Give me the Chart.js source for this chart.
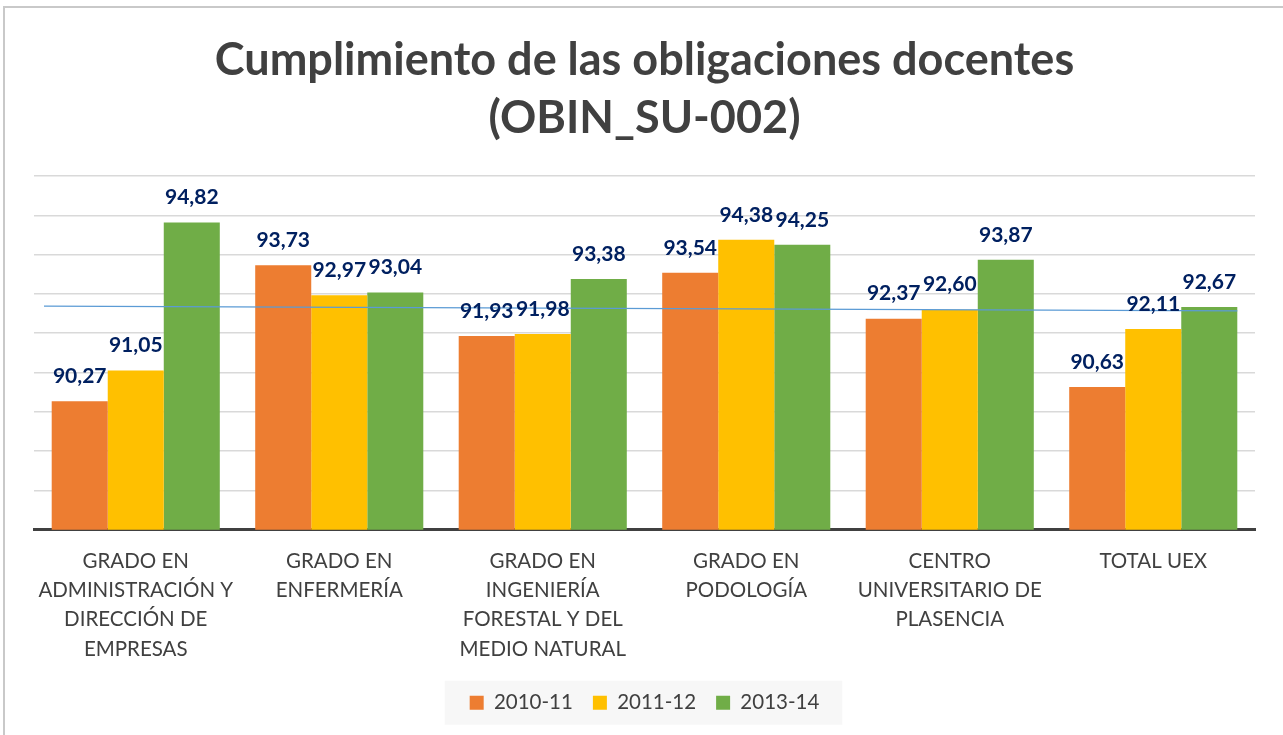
<!DOCTYPE html>
<html>
<head>
<meta charset="utf-8">
<script src="https://cdn.jsdelivr.net/npm/chart.js@4"></script>
<style>
  html, body { margin: 0; padding: 0; background: #fff; overflow: hidden; }
  #frame {
    position: absolute; left: 3px; top: 6px; width: 1300px; height: 760px;
    border: 2px solid #c9c9c9; box-sizing: border-box;
  }
  #wrap { position: absolute; left: 0; top: 0; width: 1283px; height: 735px; }
</style>
</head>
<body>
<div id="frame"></div>
<div id="wrap"><canvas id="chart"></canvas></div>
<script>
const categories = [
  ["GRADO EN", "ADMINISTRACIÓN Y", "DIRECCIÓN DE", "EMPRESAS"],
  ["GRADO EN", "ENFERMERÍA"],
  ["GRADO EN", "INGENIERÍA", "FORESTAL Y DEL", "MEDIO NATURAL"],
  ["GRADO EN", "PODOLOGÍA"],
  ["CENTRO", "UNIVERSITARIO DE", "PLASENCIA"],
  ["TOTAL UEX"]
];
const seriesNames = ["2010-11", "2011-12", "2013-14"];
const values2010 = [90.27, 93.73, 91.93, 93.54, 92.37, 90.63];
const values2011 = [91.05, 92.97, 91.98, 94.38, 92.60, 92.11];
const values2013 = [94.82, 93.04, 93.38, 94.25, 93.87, 92.67];
const seriesColors = ["#ED7D31", "#FFC000", "#70AD47"];

// value axis range (gridline every 1 point, no labels shown)
const yMin = 87;
const yMax = 96;
const yStep = 1;

// thin reference line across the plot, start and end value
const refLine = [92.69, 92.57];

const FONT = "Lato";

// number labels above each bar, plus the blue reference line under them
const barLabels = {
  id: "barLabels",
  afterDatasetsDraw(chart) {
    const ctx = chart.ctx;
    const y = chart.scales.y;
    const area = chart.chartArea;
    const lastMeta = chart.getDatasetMeta(chart.data.datasets.length - 1);
    const lastBar = lastMeta.data[lastMeta.data.length - 1];

    ctx.save();
    ctx.strokeStyle = "#5B9BD5";
    ctx.lineWidth = 1.25;
    ctx.beginPath();
    ctx.moveTo(area.left + 10, y.getPixelForValue(refLine[0]));
    ctx.lineTo(lastBar.x + lastBar.width / 2, y.getPixelForValue(refLine[1]));
    ctx.stroke();

    ctx.font = `bold 21px ${FONT}`;
    ctx.fillStyle = "#002060";
    ctx.textAlign = "center";
    ctx.textBaseline = "middle";
    chart.data.datasets.forEach((ds, i) => {
      chart.getDatasetMeta(i).data.forEach((bar, j) => {
        const txt = ds.data[j].toFixed(2).replace(".", ",");
        ctx.fillText(txt, bar.x, bar.y - 25);
      });
    });
    ctx.restore();
  }
};

// light grey panel behind the legend items
const legendPanel = {
  id: "legendPanel",
  beforeDraw(chart) {
    const boxes = chart.legend && chart.legend.legendHitBoxes;
    if (!boxes || !boxes.length) return;
    const first = boxes[0];
    const last = boxes[boxes.length - 1];
    const mid = first.top + first.height / 2;
    const ctx = chart.ctx;
    ctx.save();
    ctx.fillStyle = "#f7f7f7";
    ctx.fillRect(first.left - 25, mid - 22, last.left + last.width - first.left + 48, 44);
    ctx.restore();
  }
};

new Chart(document.getElementById("chart"), {
  type: "bar",
  data: {
    labels: categories,
    datasets: [
      { label: seriesNames[0], data: values2010, backgroundColor: seriesColors[0] },
      { label: seriesNames[1], data: values2011, backgroundColor: seriesColors[1] },
      { label: seriesNames[2], data: values2013, backgroundColor: seriesColors[2] }
    ]
  },
  options: {
    responsive: true,
    maintainAspectRatio: false,
    animation: false,
    layout: { padding: { left: 34, right: 28, top: 0, bottom: 12 } },
    datasets: {
      bar: { categoryPercentage: 0.826, barPercentage: 1.0, borderWidth: 0 }
    },
    scales: {
      x: {
        grid: { display: false },
        border: { display: true, color: "#404040", width: 3 },
        ticks: {
          color: "#404040",
          font: { family: FONT, size: 20.5, lineHeight: 1.425 },
          padding: 9,
          maxRotation: 0,
          autoSkip: false
        }
      },
      y: {
        min: yMin,
        max: yMax,
        ticks: { display: false, stepSize: yStep },
        border: { display: false },
        grid: { color: "#d9d9d9", lineWidth: 1.5, drawTicks: false }
      }
    },
    plugins: {
      title: {
        display: true,
        text: ["Cumplimiento de las obligaciones docentes", "(OBIN_SU-002)"],
        color: "#404040",
        font: { family: FONT, size: 45, weight: "bold", lineHeight: 1.29 },
        padding: { top: 31, bottom: 29 }
      },
      legend: {
        position: "bottom",
        labels: {
          color: "#404040",
          font: { family: FONT, size: 20.5 },
          boxWidth: 14,
          boxHeight: 14,
          padding: 20
        }
      },
      tooltip: { enabled: false }
    }
  },
  plugins: [barLabels, legendPanel]
});
</script>
</body>
</html>
